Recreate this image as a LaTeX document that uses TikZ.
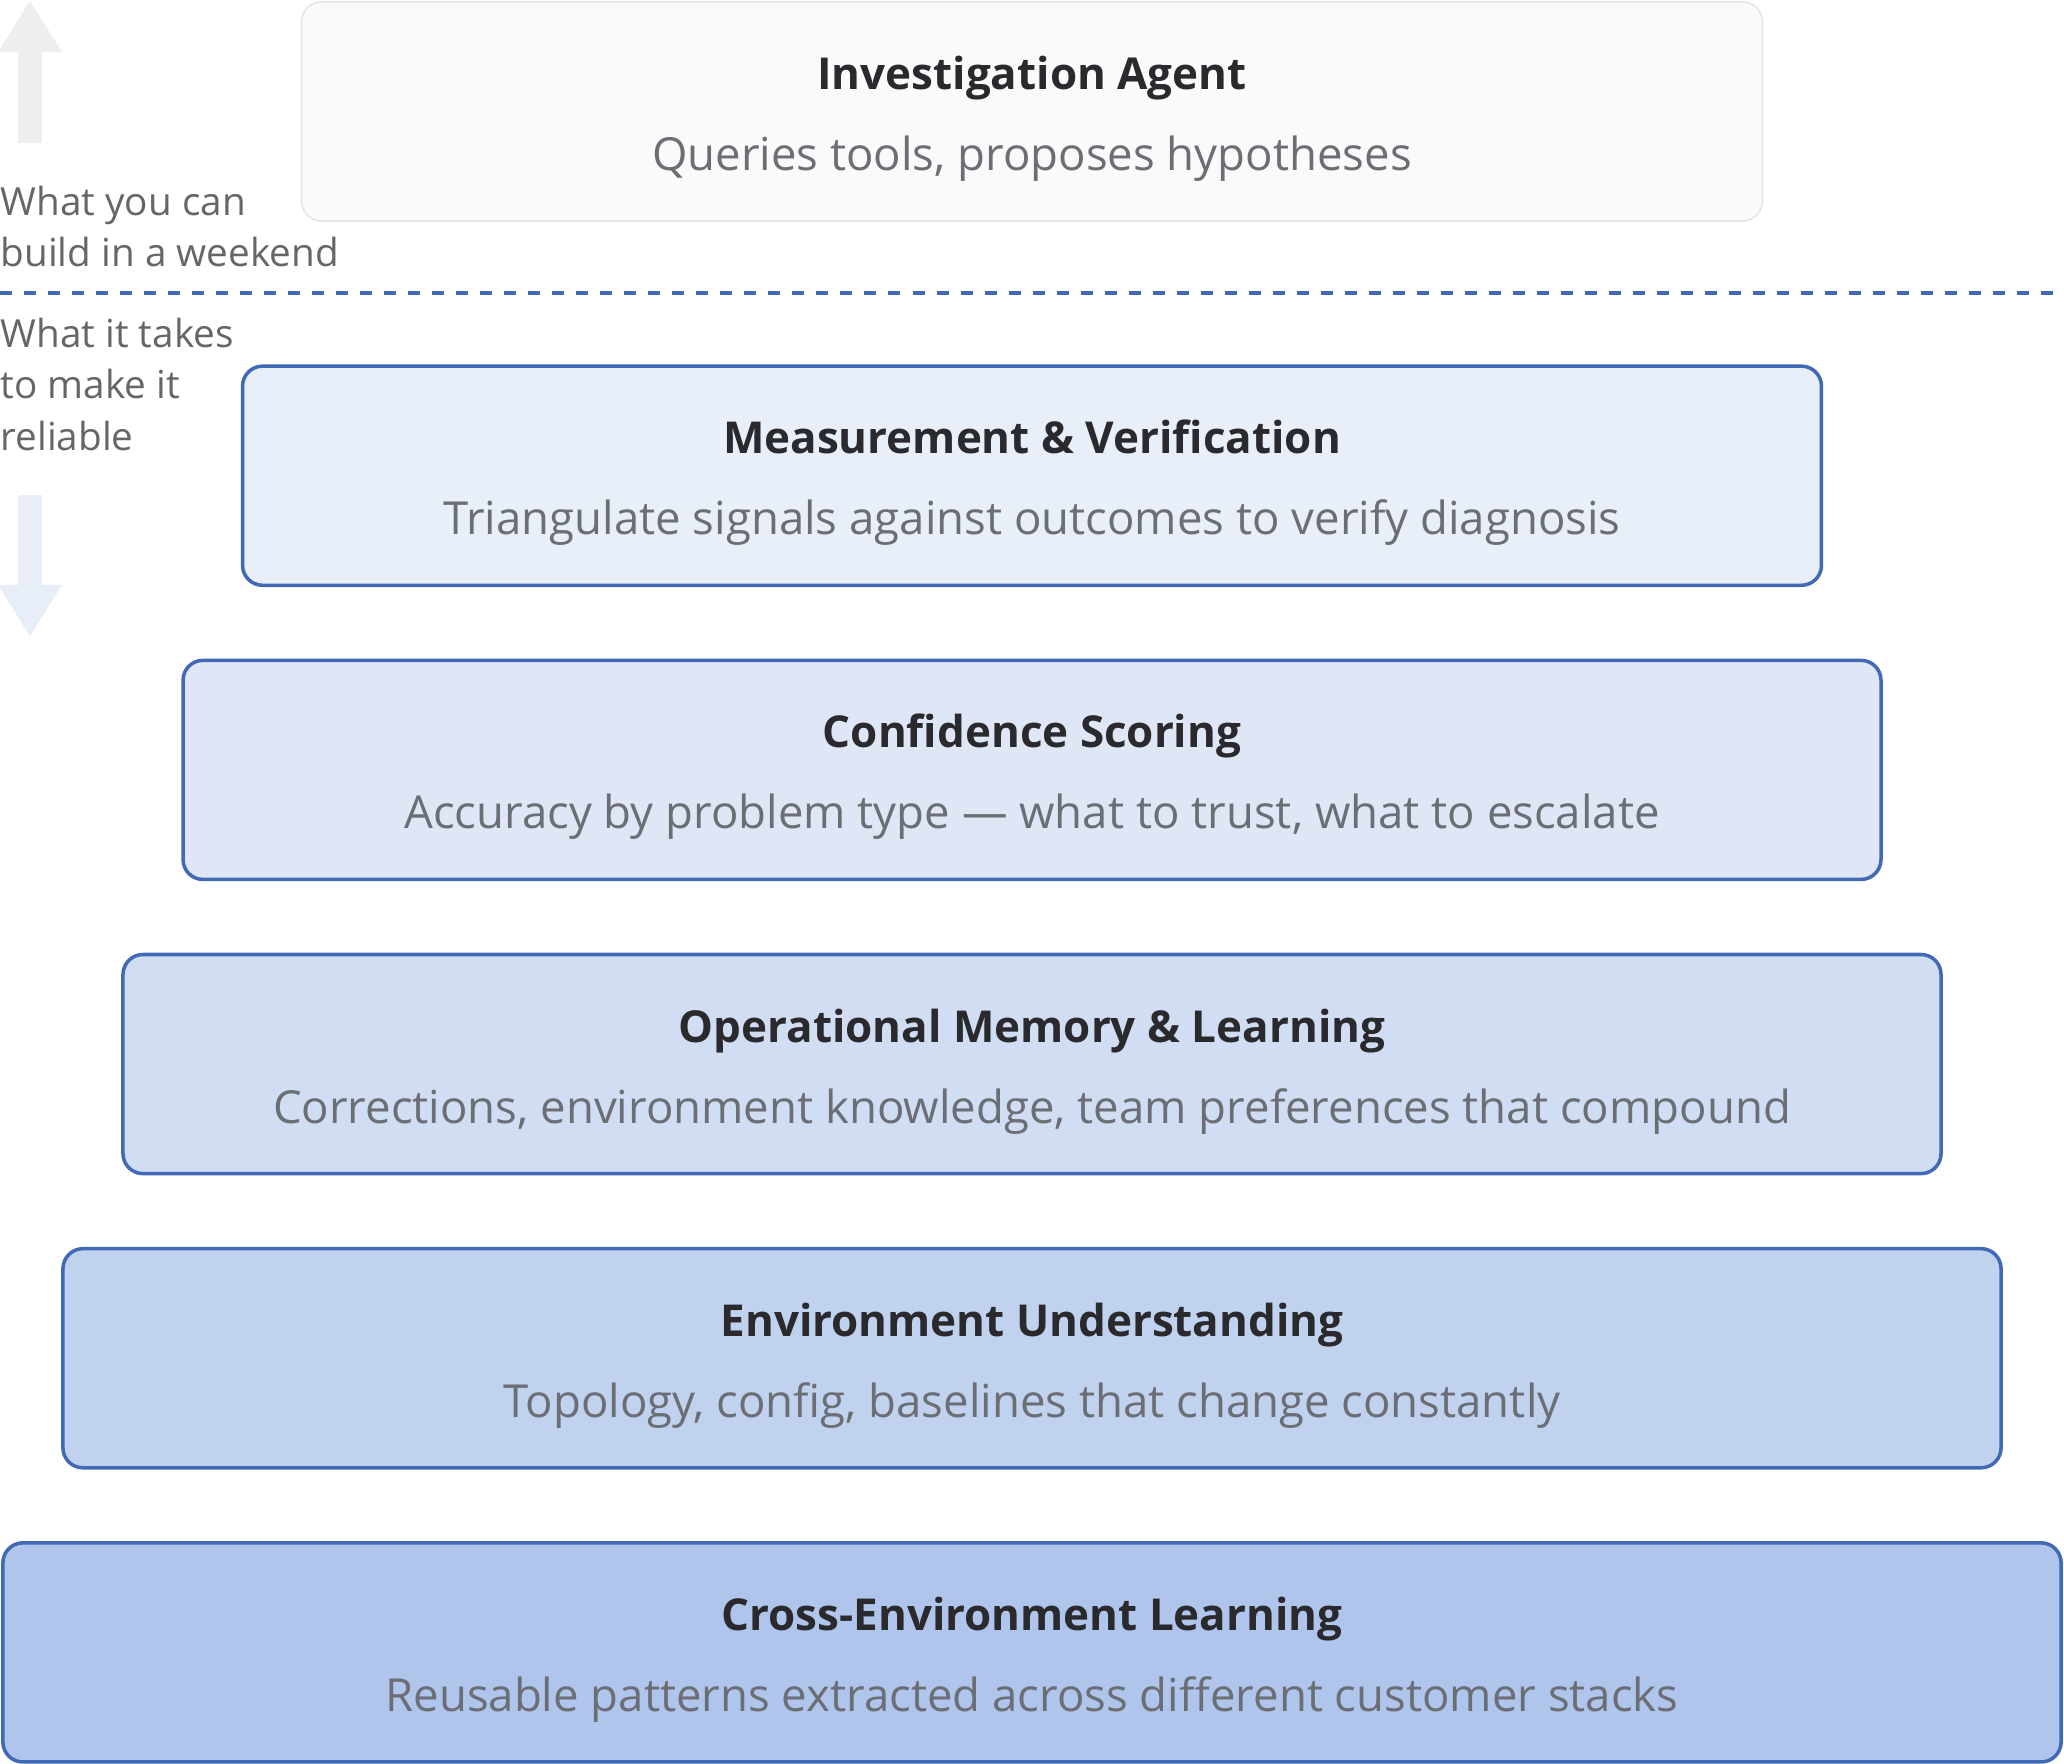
\documentclass[tikz,border=0pt]{standalone}
\usepackage{fontspec}
\setmainfont{Open Sans}
\usepackage{tikz}
\usetikzlibrary{positioning,arrows.meta}

\definecolor{edgeblue}{HTML}{4169B5}
\definecolor{agentfill}{HTML}{FAFAFA}
\definecolor{agentline}{HTML}{E6E6E6}
\definecolor{lvA}{HTML}{E9EFF9}
\definecolor{lvB}{HTML}{DFE7F6}
\definecolor{lvC}{HTML}{D0DDF2}
\definecolor{lvD}{HTML}{C1D2EF}
\definecolor{lvE}{HTML}{B0C5EB}
\definecolor{titlec}{HTML}{2A2A2E}
\definecolor{subc}{HTML}{6B6E74}
\definecolor{labc}{HTML}{666666}
\definecolor{upgray}{HTML}{EEEEEE}
\definecolor{downblue}{HTML}{E8EEF8}

\begin{document}
\begin{tikzpicture}[
    x=0.01cm, y=-0.01cm,
    node distance=0.75cm,
    layer/.style={draw=edgeblue, line width=1pt, rounded corners=0.2cm, minimum height=2.19cm, inner sep=0pt, outer sep=0pt},
    ttl/.style={font=\bfseries\fontsize{12.5}{15}\selectfont, text=titlec, anchor=base, inner sep=0pt},
    subtxt/.style={font=\fontsize{12.95}{15}\selectfont, text=subc, anchor=base, inner sep=0pt},
    sidelabel/.style={font=\fontsize{11}{14.7}\selectfont, text=labc, align=left, anchor=north west, inner sep=0pt},
    dashline/.style={draw=edgeblue, line width=1.1pt, dash pattern=on 0.12cm off 0.12cm},
    bigarrow/.style={line width=0.24cm, -{Triangle[length=0.52cm, width=0.6cm]}},
]
\useasboundingbox (0,0) rectangle (2064,1764);

% the layers
\node[layer, draw=agentline, line width=0.5pt, fill=agentfill, minimum width=14.60cm] (agent) at (1032,111.5) {};
\node[layer, fill=lvA, minimum width=15.78cm, below=1.45cm of agent] (meas) {};
\node[layer, fill=lvB, minimum width=16.97cm, below=of meas] (conf) {};
\node[layer, fill=lvC, minimum width=18.17cm, below=of conf] (opmem) {};
\node[layer, fill=lvD, minimum width=19.37cm, below=of opmem] (env) {};
\node[layer, fill=lvE, minimum width=20.57cm, below=of env] (cross) {};

\node[ttl] (agent-t) at ([yshift=2.2mm]agent.center) {Investigation Agent};
\node[subtxt] (agent-s) at ([yshift=-5.9mm]agent.center) {Queries tools, proposes hypotheses};
\node[ttl] (meas-t) at ([yshift=2.2mm]meas.center) {Measurement \& Verification};
\node[subtxt] (meas-s) at ([yshift=-5.9mm]meas.center) {Triangulate signals against outcomes to verify diagnosis};
\node[ttl] (conf-t) at ([yshift=2.2mm]conf.center) {Confidence Scoring};
\node[subtxt] (conf-s) at ([yshift=-5.9mm]conf.center) {Accuracy by problem type — what to trust, what to escalate};
\node[ttl] (opmem-t) at ([yshift=2.2mm]opmem.center) {Operational Memory \& Learning};
\node[subtxt] (opmem-s) at ([yshift=-5.9mm]opmem.center) {Corrections, environment knowledge, team preferences that compound};
\node[ttl] (env-t) at ([yshift=2.2mm]env.center) {Environment Understanding};
\node[subtxt] (env-s) at ([yshift=-5.9mm]env.center) {Topology, config, baselines that change constantly};
\node[ttl] (cross-t) at ([yshift=2.2mm]cross.center) {Cross-Environment Learning};
\node[subtxt] (cross-s) at ([yshift=-5.9mm]cross.center) {Reusable patterns extracted across different customer stacks};

% left side
\node[sidelabel] (wknd) at (0,185) {What you can\\build in a weekend};
\node[sidelabel] (relb) at (0,317) {What it takes\\to make it\\reliable};

\coordinate (cutL) at (0,293);
\coordinate (cutR) at (2064,293);
\draw[dashline] (cutL) -- (cutR);

\coordinate (upbot) at (30,143);
\coordinate (uptop) at (30,0);
\coordinate (dntop) at (30,495);
\coordinate (dnbot) at (30,637);
\draw[bigarrow, upgray] (upbot) -- (uptop);
\draw[bigarrow, downblue] (dntop) -- (dnbot);
\end{tikzpicture}
\end{document}
